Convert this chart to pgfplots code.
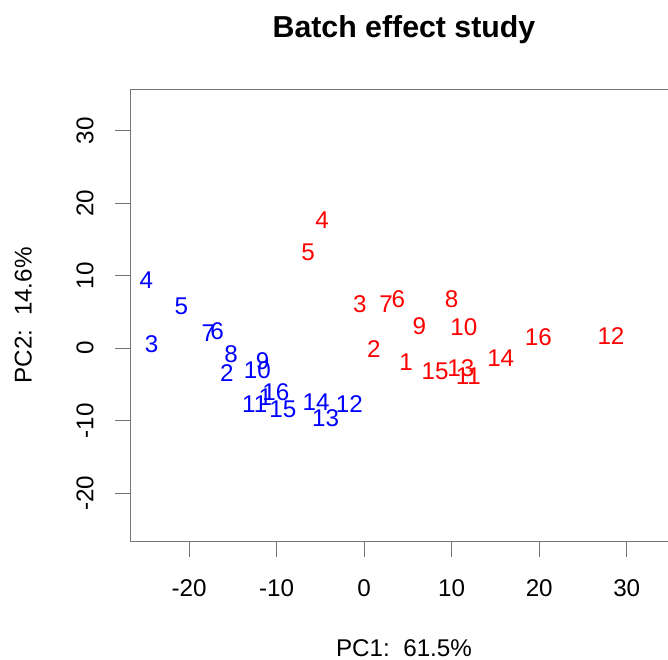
\documentclass[border=0pt]{standalone}
\usepackage{pgfplots}
\pgfplotsset{compat=1.18}
\usepackage{pgfplotstable}
\usepackage{fontspec}
\setmainfont{Liberation Sans}

\pgfplotstableread{
x y label
-11.3 -6.7 1
-15.7 -3.4 2
-24.3 0.6 3
-24.9 9.4 4
-20.9 5.8 5
-16.8 2.4 6
-17.8 2.1 7
-15.2 -0.8 8
-11.6 -1.8 9
-12.2 -3.0 10
-12.5 -7.7 11
-1.7 -7.7 12
-4.4 -9.7 13
-5.5 -7.4 14
-9.3 -8.4 15
-10.1 -6.1 16
}\batchone

\pgfplotstableread{
x y label
4.8 -1.9 1
1.1 -0.1 2
-0.5 6.1 3
-4.8 17.6 4
-6.4 13.3 5
3.9 6.8 6
2.5 6.1 7
10.0 6.7 8
6.3 3.0 9
11.4 2.9 10
11.9 -3.8 11
28.2 1.7 12
11.05 -2.8 13
15.6 -1.4 14
8.1 -3.2 15
19.9 1.5 16
}\batchtwo

\begin{document}
\begin{tikzpicture}
\begin{axis}[
  at={(130.5pt,118pt)}, anchor=south west,
  scale only axis, width=547pt, height=451.5pt,
  xmin=-26.7, xmax=35.8, ymin=-26.6, ymax=35.7,
  axis line style={black!55, line width=0.9pt},
  tick style={black!55, line width=0.9pt},
  tick align=outside, major tick length=15.5pt,
  xtick pos=left, ytick pos=left,
  xtick={-20,-10,0,10,20,30}, xticklabels={-20,-10,0,10,20,30},
  ytick={-20,-10,0,10,20,30}, yticklabels={-20,-10,0,10,20,30},
  ticklabel style={font=\fontsize{24.2}{29}\selectfont},
  xticklabel style={anchor=base, yshift=-40.2pt},
  yticklabel style={rotate=90, anchor=base},
  yticklabel shift=21.7pt,
  title={Batch effect study},
  title style={at={(axis description cs:0.5,1.1023)}, anchor=base, font=\fontsize{30.3}{36}\selectfont\bfseries},
  xlabel={PC1:~~61.5\%},
  xlabel style={at={(axis description cs:0.5,-0.2563)}, anchor=base, font=\fontsize{24.2}{29}\selectfont},
  ylabel={PC2:~~14.6\%},
  ylabel style={at={(axis description cs:-0.1806,0.5)}, anchor=base, rotate=0, font=\fontsize{24.2}{29}\selectfont},
  nodes near coords,
  point meta=explicit symbolic,
  every node near coord/.append style={anchor=center, inner sep=0pt, font=\fontsize{24.2}{29}\selectfont},
]
\addplot[draw=none, blue, nodes near coords style={text=blue}] table[x=x, y=y, meta=label] {\batchone};
\addplot[draw=none, red, nodes near coords style={text=red}] table[x=x, y=y, meta=label] {\batchtwo};
\end{axis}
\pgfresetboundingbox
\path[use as bounding box] (0,0) rectangle (668pt,659pt);
\end{tikzpicture}
\end{document}
